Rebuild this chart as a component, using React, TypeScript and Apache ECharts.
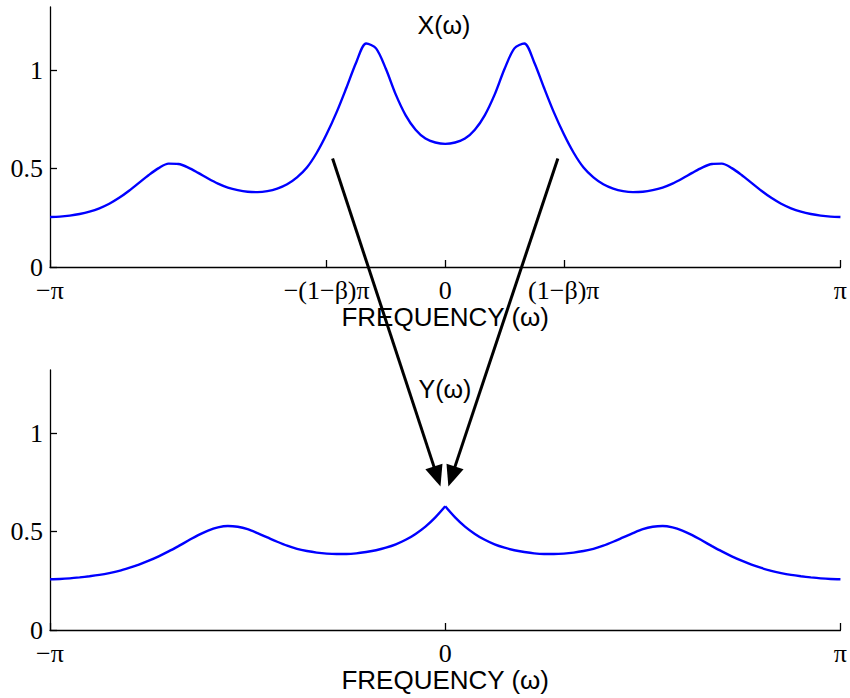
import { useEffect, useRef } from 'react';
import * as echarts from 'echarts';

// Frequency grid in units of π, shared by both spectra
const omega = [
  -1, -0.975, -0.95, -0.925, -0.9, -0.875, -0.85, -0.825, -0.8, -0.775,
  -0.75, -0.725, -0.7, -0.675, -0.65, -0.625, -0.6, -0.575, -0.55, -0.525,
  -0.5, -0.475, -0.45, -0.425, -0.4, -0.375, -0.35, -0.325, -0.3, -0.275,
  -0.25, -0.225, -0.2, -0.175, -0.15, -0.125, -0.1, -0.075, -0.05, -0.025,
  0,
  0.025, 0.05, 0.075, 0.1, 0.125, 0.15, 0.175, 0.2, 0.225, 0.25,
  0.275, 0.3, 0.325, 0.35, 0.375, 0.4, 0.425, 0.45, 0.475, 0.5,
  0.525, 0.55, 0.575, 0.6, 0.625, 0.65, 0.675, 0.7, 0.725, 0.75,
  0.775, 0.8, 0.825, 0.85, 0.875, 0.9, 0.925, 0.95, 0.975, 1,
];

// |X(ω)|
const magX = [
  0.254, 0.256, 0.261, 0.269, 0.281, 0.298, 0.321, 0.351, 0.387, 0.427,
  0.467, 0.502, 0.525, 0.523, 0.505, 0.478, 0.449, 0.423, 0.403, 0.39,
  0.382, 0.38, 0.385, 0.398, 0.42, 0.455, 0.505, 0.58, 0.675, 0.785,
  0.91, 1.04, 1.135, 1.11, 1.005, 0.875, 0.77, 0.697, 0.652, 0.632,
  0.625,
  0.632, 0.652, 0.697, 0.77, 0.875, 1.005, 1.11, 1.135, 1.04, 0.91,
  0.785, 0.675, 0.58, 0.505, 0.455, 0.42, 0.398, 0.385, 0.38, 0.382,
  0.39, 0.403, 0.423, 0.449, 0.478, 0.505, 0.523, 0.525, 0.502, 0.467,
  0.427, 0.387, 0.351, 0.321, 0.298, 0.281, 0.269, 0.261, 0.256, 0.254,
];

// |Y(ω)|
const magY = [
  0.258, 0.259, 0.262, 0.267, 0.273, 0.28, 0.289, 0.3, 0.315, 0.332,
  0.352, 0.374, 0.399, 0.426, 0.454, 0.482, 0.505, 0.521, 0.528, 0.524,
  0.512, 0.492, 0.47, 0.448, 0.428, 0.412, 0.401, 0.393, 0.388, 0.386,
  0.386, 0.389, 0.396, 0.405, 0.418, 0.435, 0.458, 0.488, 0.525, 0.572,
  0.628,
  0.572, 0.525, 0.488, 0.458, 0.435, 0.418, 0.405, 0.396, 0.389, 0.386,
  0.386, 0.388, 0.393, 0.401, 0.412, 0.428, 0.448, 0.47, 0.492, 0.512,
  0.524, 0.528, 0.521, 0.505, 0.482, 0.454, 0.426, 0.399, 0.374, 0.352,
  0.332, 0.315, 0.3, 0.289, 0.28, 0.273, 0.267, 0.262, 0.259, 0.258,
];

// Tick positions (units of π / magnitude) and their labels
const topTickValues = [-1, -0.3, 0, 0.3, 1];
const topTickLabels = ['−π', '−(1−β)π', '0', '(1−β)π', 'π'];
const bottomTickValues = [-1, 0, 1];
const bottomTickLabels = ['−π', '0', 'π'];
const magTickValues = [0, 0.5, 1];
const magTickLabels = ['0', '0.5', '1'];

// Arrows: start in the X(ω) panel, end in the Y(ω) panel, as [ω/π, magnitude]
const arrowStarts = [[-0.285, 0.551], [0.285, 0.551]];
const arrowEnds = [[-0.012, 0.729], [0.008, 0.729]];

const SERIF = '"Liberation Serif", "Times New Roman", serif';
const SANS = '"Liberation Sans", Arial, sans-serif';

function labelFor(values: number[], labels: string[]) {
  return (v: number) => {
    const i = values.findIndex((t) => Math.abs(t - v) < 1e-6);
    return i >= 0 ? labels[i] : '';
  };
}

function freqAxis(gridIndex: number, values: number[], labels: string[]) {
  return {
    type: 'value',
    gridIndex,
    min: -1,
    max: 1,
    name: 'FREQUENCY (ω)',
    nameLocation: 'middle',
    nameGap: 37,
    nameTextStyle: { fontFamily: SANS, fontSize: 26, color: '#000' },
    axisLine: { show: true, onZero: false, lineStyle: { color: '#000', width: 1.3 } },
    axisTick: { show: true, inside: true, length: 7, customValues: values, lineStyle: { color: '#000', width: 1.3 } },
    axisLabel: {
      customValues: values,
      formatter: labelFor(values, labels),
      fontFamily: SERIF,
      fontSize: 26,
      lineHeight: 20,
      color: '#000',
      margin: 13,
    },
    splitLine: { show: false },
  };
}

function magAxis(gridIndex: number) {
  return {
    type: 'value',
    gridIndex,
    min: 0,
    max: 1.32,
    axisLine: { show: true, onZero: false, lineStyle: { color: '#000', width: 1.3 } },
    axisTick: { show: true, inside: true, length: 7, customValues: magTickValues, lineStyle: { color: '#000', width: 1.3 } },
    axisLabel: {
      customValues: magTickValues,
      formatter: labelFor(magTickValues, magTickLabels),
      fontFamily: SERIF,
      fontSize: 26,
      lineHeight: 20,
      color: '#000',
      margin: 7,
    },
    splitLine: { show: false },
  };
}

const lineStyle = { color: '#0000ff', width: 2.4 };

export default function App() {
  const ref = useRef<HTMLDivElement>(null);

  useEffect(() => {
    const chart = echarts.init(ref.current!, undefined, { renderer: 'svg' });

    const xData = omega.map((w, i) => [w, magX[i]]);
    // Y(ω) has a cusp at ω = 0, so each half is drawn as its own smooth curve
    const zeroIdx = omega.indexOf(0);
    const yLeft = omega.slice(0, zeroIdx + 1).map((w, i) => [w, magY[i]]);
    const yRight = omega.slice(zeroIdx).map((w, i) => [w, magY[zeroIdx + i]]);

    chart.setOption({
      animation: false,
      backgroundColor: '#fff',
      grid: [
        { left: 50, top: 7, width: 791, height: 260 },
        { left: 50, top: 370, width: 791, height: 260 },
      ],
      xAxis: [freqAxis(0, topTickValues, topTickLabels), freqAxis(1, bottomTickValues, bottomTickLabels)],
      yAxis: [magAxis(0), magAxis(1)],
      series: [
        { type: 'line', xAxisIndex: 0, yAxisIndex: 0, data: xData, showSymbol: false, smooth: 0.3, lineStyle, itemStyle: { color: '#0000ff' } },
        { type: 'line', xAxisIndex: 1, yAxisIndex: 1, data: yLeft, showSymbol: false, smooth: 0.3, lineStyle, itemStyle: { color: '#0000ff' } },
        { type: 'line', xAxisIndex: 1, yAxisIndex: 1, data: yRight, showSymbol: false, smooth: 0.3, lineStyle, itemStyle: { color: '#0000ff' } },
      ],
    });

    const graphics: any[] = [
      {
        type: 'text', x: 444, y: 25, z: 50,
        style: { text: 'X(ω)', align: 'center', verticalAlign: 'middle', fontFamily: SANS, fontSize: 25, fill: '#000' },
      },
      {
        type: 'text', x: 445, y: 389, z: 50,
        style: { text: 'Y(ω)', align: 'center', verticalAlign: 'middle', fontFamily: SANS, fontSize: 25, fill: '#000' },
      },
    ];

    const headLen = 21;
    const headHalf = 9;
    arrowStarts.forEach((s, i) => {
      const p0 = chart.convertToPixel({ gridIndex: 0 }, s) as number[];
      const p1 = chart.convertToPixel({ gridIndex: 1 }, arrowEnds[i]) as number[];
      const dx = p1[0] - p0[0];
      const dy = p1[1] - p0[1];
      const len = Math.hypot(dx, dy);
      const ux = dx / len;
      const uy = dy / len;
      const bx = p1[0] - ux * headLen;
      const by = p1[1] - uy * headLen;
      graphics.push({
        type: 'line', z: 100,
        shape: { x1: p0[0], y1: p0[1], x2: bx + ux * 2, y2: by + uy * 2 },
        style: { stroke: '#000', lineWidth: 3 },
      });
      graphics.push({
        type: 'polygon', z: 100,
        shape: {
          points: [
            [p1[0], p1[1]],
            [bx - uy * headHalf, by + ux * headHalf],
            [bx + uy * headHalf, by - ux * headHalf],
          ],
        },
        style: { fill: '#000' },
      });
    });

    chart.setOption({ graphic: graphics });

    return () => chart.dispose();
  }, []);

  return <div ref={ref} style={{ position: 'fixed', left: 0, top: 0, width: 850, height: 698 }} />;
}
